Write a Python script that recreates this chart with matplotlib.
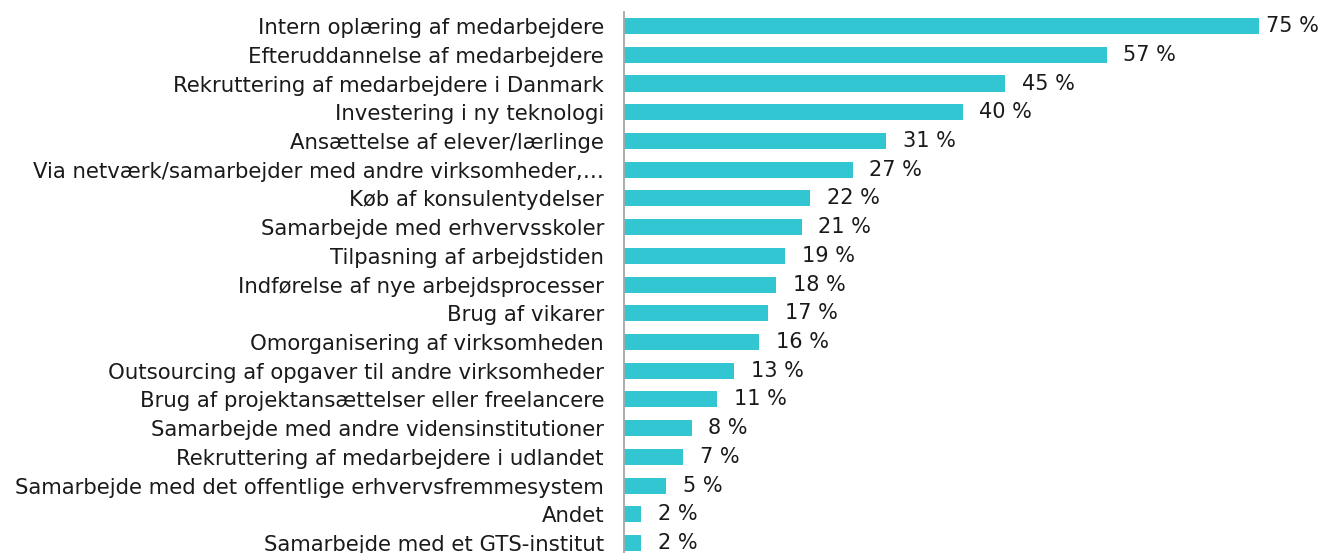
import matplotlib.pyplot as plt

# Categories and shares (in %)
categories = [
    "Intern oplæring af medarbejdere",
    "Efteruddannelse af medarbejdere",
    "Rekruttering af medarbejdere i Danmark",
    "Investering i ny teknologi",
    "Ansættelse af elever/lærlinge",
    "Via netværk/samarbejder med andre virksomheder,…",
    "Køb af konsulentydelser",
    "Samarbejde med erhvervsskoler",
    "Tilpasning af arbejdstiden",
    "Indførelse af nye arbejdsprocesser",
    "Brug af vikarer",
    "Omorganisering af virksomheden",
    "Outsourcing af opgaver til andre virksomheder",
    "Brug af projektansættelser eller freelancere",
    "Samarbejde med andre vidensinstitutioner",
    "Rekruttering af medarbejdere i udlandet",
    "Samarbejde med det offentlige erhvervsfremmesystem",
    "Andet",
    "Samarbejde med et GTS-institut",
]
values = [75, 57, 45, 40, 31, 27, 22, 21, 19, 18, 17, 16, 13, 11, 8, 7, 5, 2, 2]

W, H = 1325, 553
fig = plt.figure(figsize=(W / 100, H / 100), dpi=100)
ax = fig.add_axes([624 / W, -4.4 / H, (W - 624) / W, 545.7 / H])

y = range(len(categories))
ax.barh(y, values, height=0.56, color="#32C6D3")
ax.set_ylim(len(categories) - 0.5, -0.5)
ax.set_xlim(0, 82.8)

ax.set_yticks(list(y))
ax.set_yticklabels(categories, fontsize=15.3, color="#1a1a1a")
ax.tick_params(axis="y", length=0, pad=14.4)
ax.set_xticks([])

for s in ["top", "right", "bottom"]:
    ax.spines[s].set_visible(False)
ax.spines["left"].set_color("#A6A6A6")
ax.spines["left"].set_linewidth(1.3)

# value labels
for i, v in enumerate(values):
    off = 5 if v == max(values) else 12
    ax.annotate(f"{v} %", (v, i), xytext=(off, 0), textcoords="offset points",
                va="center", ha="left", fontsize=15, color="#1a1a1a",
                annotation_clip=False)

fig.savefig("out.png", dpi=100)
